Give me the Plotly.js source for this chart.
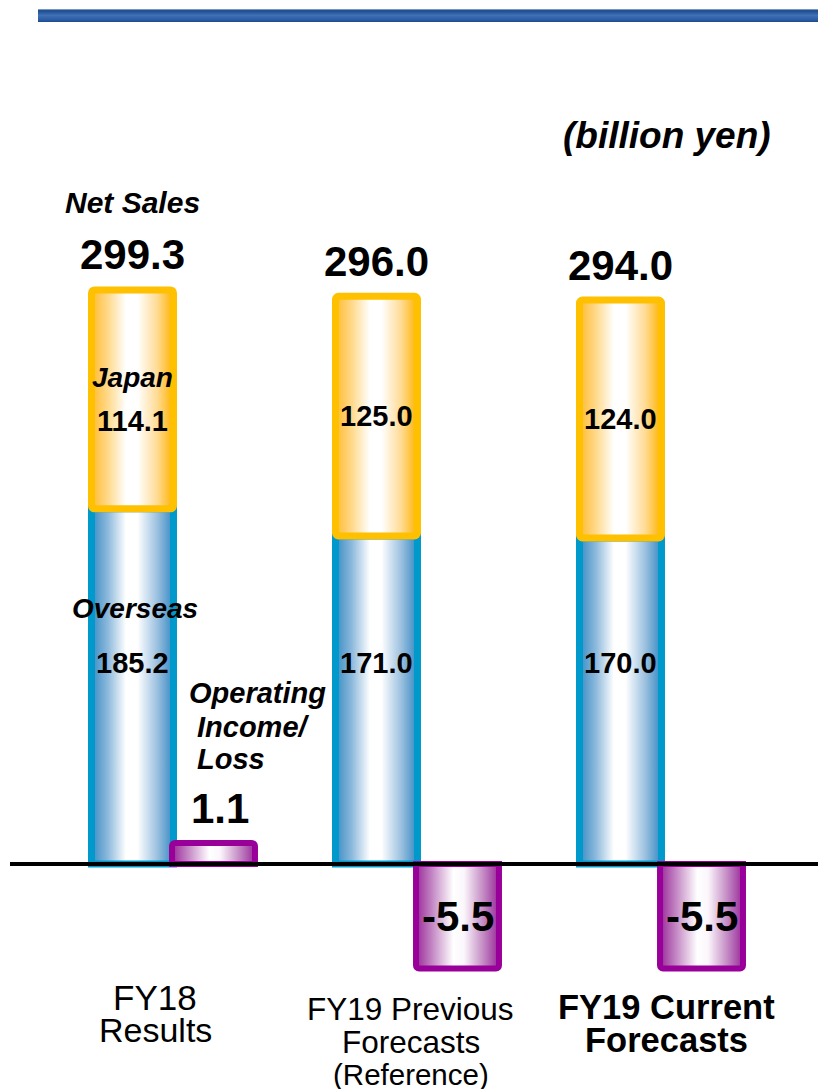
<!DOCTYPE html>
<html><head><meta charset="utf-8">
<script src="https://cdn.plot.ly/plotly-3.0.1.min.js"></script>
<style>html,body{margin:0;padding:0;background:#fff}#chart{width:818px;height:1089px}</style>
</head><body><div id="chart"></div>
<script>
// ---------- data ----------
const categories = ['FY18 Results', 'FY19 Previous Forecasts (Reference)', 'FY19 Current Forecasts'];
const categoryLines = [['FY18', 'Results'], ['FY19 Previous', 'Forecasts', '(Reference)'], ['FY19 Current', 'Forecasts']];
const overseas = [185.2, 171.0, 170.0];
const japan = [114.1, 125.0, 124.0];
const netSales = [299.3, 296.0, 294.0];
const operatingIncome = [1.1, -5.5, -5.5];
const unitLabel = '(billion yen)';
const seriesNames = {sales: 'Net Sales', japan: 'Japan', overseas: 'Overseas'};
const opLabelLines = ['Operating', 'Income/', 'Loss'];

// ---------- geometry / style ----------
const xs = categories.map((_, i) => i);
const W = 818, H = 1089, zeroPx = 864;
const salesScale = 1.918, opScale = 19.0;
const salesW = 0.336, salesOff = -0.334, opW = 0.340, opOff = -0.004;
const salesC = salesOff + salesW / 2, opC = opOff + opW / 2;
const FONT = 'Liberation Sans, Arial, sans-serif';

const traces = [
  {type: 'bar', name: seriesNames.overseas, x: xs, y: overseas, width: salesW, offset: salesOff,
   marker: {color: '#8fbfe0', line: {color: '#0099cc', width: 7}}, hoverinfo: 'skip'},
  {type: 'bar', name: seriesNames.japan, x: xs, y: japan, base: overseas, width: salesW, offset: salesOff,
   marker: {color: '#ffd980', line: {color: '#ffc000', width: 7}, cornerradius: 3}, hoverinfo: 'skip'},
  {type: 'bar', name: 'Operating Income/Loss', x: xs, y: operatingIncome, width: opW, offset: opOff, yaxis: 'y2',
   marker: {color: '#cc80cc', line: {color: '#990099', width: 6}, cornerradius: 3}, hoverinfo: 'skip'}
];

const ann = [];
const bi = (t) => '<b><i>' + t + '</i></b>';
ann.push({xref: 'paper', yref: 'paper', x: 667 / W, y: 1 - 135 / H, text: bi(unitLabel), showarrow: false,
  font: {family: FONT, size: 37, color: '#000'}, xanchor: 'center', yanchor: 'middle'});
ann.push({xref: 'x', yref: 'paper', x: 0 + salesC, y: 1 - 203 / H, text: bi(seriesNames.sales), showarrow: false,
  font: {family: FONT, size: 30, color: '#000'}, xanchor: 'center', yanchor: 'middle'});
ann.push({xref: 'x', yref: 'paper', x: 0 + salesC, y: 1 - 377 / H, text: bi(seriesNames.japan), showarrow: false,
  font: {family: FONT, size: 28, color: '#000'}, xanchor: 'center', yanchor: 'middle'});
ann.push({xref: 'x', yref: 'paper', x: 0 + salesC + 0.01, y: 1 - 608 / H, text: bi(seriesNames.overseas), showarrow: false,
  font: {family: FONT, size: 28, color: '#000'}, xanchor: 'center', yanchor: 'middle'});
const opLineX = [187, 195, 195], opLineY = [693, 727, 759];
opLabelLines.forEach((t, k) => {
  ann.push({xref: 'paper', yref: 'paper', x: opLineX[k] / W, y: 1 - opLineY[k] / H, text: bi(t), showarrow: false,
    font: {family: FONT, size: 29, color: '#000'}, xanchor: 'left', yanchor: 'middle'});
});

xs.forEach((xi, i) => {
  ann.push({x: xi + salesC, y: netSales[i], xref: 'x', yref: 'y', text: '<b>' + netSales[i].toFixed(1) + '</b>',
    showarrow: false, yanchor: 'middle', yshift: 35, font: {family: FONT, size: 42, color: '#000'}});
  ann.push({x: xi + salesC, y: overseas[i] + japan[i] / 2, xref: 'x', yref: 'y', text: '<b>' + japan[i].toFixed(1) + '</b>',
    showarrow: false, yanchor: 'middle', yshift: i === 0 ? -22 : 0, font: {family: FONT, size: 29, color: '#000'}});
  ann.push({x: xi + salesC, y: 105, xref: 'x', yref: 'y', text: '<b>' + overseas[i].toFixed(1) + '</b>',
    showarrow: false, yanchor: 'middle', font: {family: FONT, size: 29, color: '#000'}});
  const op = operatingIncome[i];
  ann.push({x: xi + opC, y: op >= 0 ? op : op / 2, xref: 'x', yref: 'y2', text: '<b>' + op.toFixed(1) + '</b>',
    showarrow: false, yanchor: 'middle', yshift: op >= 0 ? 35 : 0, xshift: op >= 0 ? 6 : 0,
    font: {family: FONT, size: 42, color: '#000'}});
});

// category labels, one annotation per line (tight line spacing)
const catX = [155, 411, 666];
const catY0 = [997, 1009, 1007], catDY = 32.5;
const catSizes = [[35, 34], [31.5, 31.5, 29.5], [34.5, 34.5]];
xs.forEach((xi, i) => {
  categoryLines[i].forEach((line, k) => {
    const t = i === 2 ? '<b>' + line + '</b>' : line;
    ann.push({xref: 'paper', yref: 'paper', x: catX[i] / W, y: 1 - (catY0[i] + k * catDY) / H, text: t, showarrow: false,
      borderpad: 0, xanchor: 'center', yanchor: 'middle', font: {family: FONT, size: catSizes[i][k], color: '#000'}});
  });
});

const layout = {
  width: W, height: H, margin: {l: 0, r: 0, t: 0, b: 0},
  paper_bgcolor: '#fff', plot_bgcolor: '#fff', showlegend: false, barmode: 'overlay',
  xaxis: {range: [-173 / 244, (W - 173) / 244], visible: false, fixedrange: true},
  yaxis: {range: [-(H - zeroPx) / salesScale, zeroPx / salesScale], visible: false, fixedrange: true},
  yaxis2: {range: [-(H - zeroPx) / opScale, zeroPx / opScale], overlaying: 'y', visible: false, fixedrange: true},
  shapes: [
    {type: 'rect', xref: 'paper', yref: 'paper', x0: 38 / W, x1: 1, y0: 1 - 22 / H, y1: 1 - 9 / H,
     fillcolor: '#2c5ea5', line: {width: 0}, layer: 'above'},
    {type: 'line', xref: 'paper', yref: 'y', x0: 10 / W, x1: 1, y0: 0, y1: 0,
     line: {color: '#000', width: 4}, layer: 'above'}
  ],
  annotations: ann
};

const gd = document.getElementById('chart');
Plotly.newPlot(gd, traces, layout, {staticPlot: true, displayModeBar: false}).then(() => {
  const ns = 'http://www.w3.org/2000/svg';
  const svg = gd.querySelector('svg.main-svg');
  let defs = svg.querySelector('defs');
  if (!defs) { defs = document.createElementNS(ns, 'defs'); svg.insertBefore(defs, svg.firstChild); }
  function addGrad(id, stops, vertical) {
    const g = document.createElementNS(ns, 'linearGradient');
    g.setAttribute('id', id);
    g.setAttribute('x1', '0'); g.setAttribute('y1', '0');
    g.setAttribute('x2', vertical ? '0' : '1'); g.setAttribute('y2', vertical ? '1' : '0');
    stops.forEach(([o, c]) => {
      const s = document.createElementNS(ns, 'stop');
      s.setAttribute('offset', o); s.setAttribute('stop-color', c); g.appendChild(s);
    });
    defs.appendChild(g);
  }
  addGrad('gBlue', [[0, '#3a8cc4'], [0.2, '#8db9dc'], [0.42, '#ffffff'], [0.56, '#ffffff'], [0.8, '#9cc1e0'], [1, '#3589c2']]);
  addGrad('gOrange', [[0, '#ffbb2e'], [0.2, '#ffd98a'], [0.42, '#ffffff'], [0.56, '#ffffff'], [0.8, '#ffdb95'], [1, '#ffb300']]);
  addGrad('gPurple', [[0, '#9a2a9a'], [0.2, '#c58ac5'], [0.45, '#ffffff'], [0.58, '#fbf6fb'], [0.8, '#c690c6'], [1, '#9a2a9a']]);
  addGrad('gRule', [[0, '#9fb8dc'], [0.12, '#1d4c8e'], [0.5, '#3f71b6'], [0.85, '#2a5aa0'], [1, '#1c4a8b']], true);
  const gradByTrace = ['gBlue', 'gOrange', 'gPurple'];
  gd.querySelectorAll('g.trace.bars').forEach((tg, k) => {
    const cd = tg.__data__;
    const idx = (cd && cd[0] && cd[0].trace) ? cd[0].trace.index : k;
    tg.querySelectorAll('path').forEach(p => { p.style.fill = 'url(#' + gradByTrace[idx] + ')'; });
  });
  const rule = gd.querySelector('.shapelayer path[data-index="0"]');
  if (rule) rule.style.fill = 'url(#gRule)';
});
</script>
</body></html>
